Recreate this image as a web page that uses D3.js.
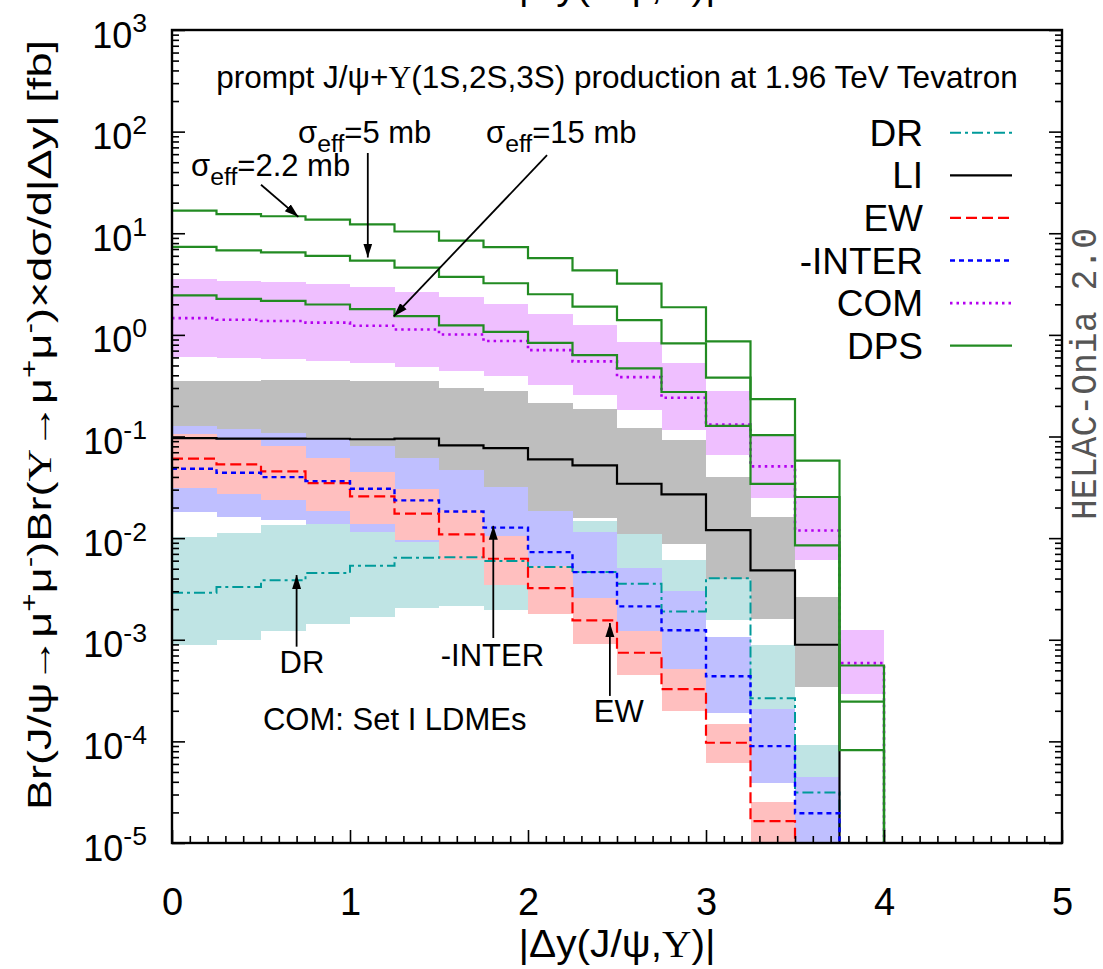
<!DOCTYPE html>
<html>
<head>
<meta charset="utf-8">
<script src="https://cdnjs.cloudflare.com/ajax/libs/d3/7.8.5/d3.min.js"></script>
<style>
body { margin: 0; background: #fff; }
svg { display: block; }
</style>
</head>
<body>
<div id="chart"></div>
<script>
// bin edges in |dy| (16 bins of 0.25)
var xEdges = [0, 0.25, 0.5, 0.75, 1, 1.25, 1.5, 1.75, 2, 2.25, 2.5, 2.75, 3, 3.25, 3.5, 3.75, 4];

// DPS for three sigma_eff values
var dps22 = [16.7, 15.4, 14.7, 13.6, 12.2, 10.4, 8.45, 7.31, 5.70, 4.31, 3.19, 1.87, 0.863, 0.233, 0.0578, 5.58e-4];
var dps5  = [7.35, 6.78, 6.47, 5.98, 5.37, 4.58, 3.72, 3.22, 2.51, 1.90, 1.40, 0.823, 0.380, 0.103, 0.0254, 2.46e-4];
var dps15 = [2.45, 2.26, 2.16, 1.99, 1.79, 1.53, 1.24, 1.07, 0.836, 0.632, 0.468, 0.274, 0.127, 0.0342, 0.00848, 8.2e-5];

// COM
var comC  = [1.46, 1.41, 1.37, 1.32, 1.23, 1.13, 1.01, 0.869, 0.708, 0.548, 0.384, 0.241, 0.131, 0.0508, 0.0119, 5.89e-4];
var comHi = [3.52, 3.39, 3.29, 3.14, 2.94, 2.62, 2.34, 2.00, 1.59, 1.24, 0.844, 0.524, 0.278, 0.105, 0.0255, 1.26e-3];
var comLo = [0.605, 0.591, 0.574, 0.552, 0.528, 0.479, 0.440, 0.391, 0.318, 0.254, 0.181, 0.116, 0.0652, 0.0251, 6.04e-3, 2.90e-4];

// LI
var liC  = [0.0965, 0.0955, 0.0955, 0.095, 0.094, 0.0955, 0.0817, 0.0769, 0.0596, 0.0520, 0.0343, 0.0269, 0.0120, 4.81e-3, 8.93e-4, 0];
var liHi = [0.351, 0.351, 0.357, 0.357, 0.351, 0.351, 0.297, 0.280, 0.213, 0.186, 0.120, 0.093, 0.0398, 0.0161, 2.63e-3, 0];
var liLo = [0.030, 0.030, 0.030, 0.029, 0.029, 0.029, 0.0255, 0.024, 0.017, 0.0157, 0.0109, 8.67e-3, 4.0e-3, 1.61e-3, 3.41e-4, 0];

// EW
var ewC  = [0.0605, 0.0531, 0.0454, 0.0348, 0.0257, 0.0174, 0.0109, 6.27e-3, 3.22e-3, 1.55e-3, 7.45e-4, 3.27e-4, 9.69e-5, 1.64e-5, 0, 0];
var ewHi = [0.1066, 0.0916, 0.0805, 0.0613, 0.0446, 0.0302, 0.0187, 0.0104, 5.27e-3, 2.57e-3, 1.22e-3, 5.14e-4, 1.49e-4, 2.52e-5, 0, 0];
var ewLo = [0.0314, 0.0273, 0.0235, 0.0184, 0.0139, 9.5e-3, 6.14e-3, 3.42e-3, 1.80e-3, 9.14e-4, 4.46e-4, 1.97e-4, 6.1e-5, 5e-6, 0, 0];

// -INTER
var interC  = [0.0482, 0.0440, 0.0398, 0.0364, 0.0306, 0.0235, 0.0183, 0.0127, 7.28e-3, 4.63e-3, 2.13e-3, 1.24e-3, 4.38e-4, 8.97e-5, 1.96e-5, 0];
var interHi = [0.128, 0.118, 0.108, 0.0952, 0.0806, 0.0617, 0.0464, 0.0322, 0.0184, 0.0115, 5.07e-3, 2.99e-3, 1.06e-3, 2.06e-4, 4.44e-5, 0];
var interLo = [0.0179, 0.0160, 0.0150, 0.0137, 0.0116, 9.14e-3, 7.0e-3, 4.9e-3, 2.8e-3, 1.8e-3, 8.2e-4, 5.2e-4, 1.9e-4, 3.9e-5, 5e-6, 0];

// DR
var drC  = [2.90e-3, 3.30e-3, 3.84e-3, 4.53e-3, 5.35e-3, 6.41e-3, 6.50e-3, 5.94e-3, 5.19e-3, 4.63e-3, 3.56e-3, 1.90e-3, 4.04e-3, 2.66e-4, 3.14e-5, 0];
var drHi = [0.0102, 0.0113, 0.0136, 0.0150, 0.0125, 0.0212, 0.0215, 0.0196, 0.0171, 0.0149, 0.0109, 6.04e-3, 0.0133, 8.8e-4, 9.3e-5, 0];
var drLo = [8.79e-4, 1.0e-3, 1.21e-3, 1.42e-3, 1.69e-3, 2.05e-3, 2.13e-3, 1.96e-3, 1.9e-3, 1.5e-3, 1.1e-3, 6e-4, 1.55e-3, 8e-5, 1e-5, 0];

// axis ticks
var xTicks = [0, 1, 2, 3, 4, 5];
var yExps = [-5, -4, -3, -2, -1, 0, 1, 2, 3];
var legendNames = ["DR", "LI", "EW", "-INTER", "COM", "DPS"];

var W = 1103, H = 969;
var pLeft = 172, pRight = 1062, pTop = 30, pBottom = 843;
var SANS = "'Liberation Sans', Arial, Helvetica, sans-serif";
var SERIF = "'Liberation Serif', 'DejaVu Serif', serif";
var MONO = "'Liberation Mono', 'DejaVu Sans Mono', monospace";

var x = d3.scaleLinear().domain([0, 5]).range([pLeft, pRight]);
var y = d3.scaleLog().domain([1e-5, 1e3]).range([pBottom, pTop]);

var svg = d3.select("#chart").append("svg")
	.attr("width", W).attr("height", H)
	.style("font-family", SANS);

var defs = svg.append("defs");
defs.append("clipPath").attr("id", "plotclip")
	.append("rect")
	.attr("x", pLeft).attr("y", pTop)
	.attr("width", pRight - pLeft).attr("height", pBottom - pTop);
defs.append("marker")
	.attr("id", "ahead")
	.attr("markerUnits", "userSpaceOnUse")
	.attr("viewBox", "-14 -6 16 12")
	.attr("markerWidth", 16).attr("markerHeight", 12)
	.attr("refX", 0).attr("refY", 0)
	.attr("orient", "auto")
	.append("path")
	.attr("d", "M0,0 L-14,-4.5 L-14,4.5 Z")
	.attr("fill", "#000");

var plot = svg.append("g").attr("clip-path", "url(#plotclip)");

// uncertainty bands, one rect per bin
function band(lo, hi, color) {
	var data = lo.map(function(l, i) {
		return { x0: xEdges[i], x1: xEdges[i + 1], lo: Math.max(l, 1e-7), hi: hi[i] };
	}).filter(function(d) { return d.hi > 0; });
	plot.append("g").selectAll("rect")
		.data(data)
		.enter().append("rect")
		.attr("x", function(d) { return x(d.x0); })
		.attr("width", function(d) { return x(d.x1) - x(d.x0); })
		.attr("y", function(d) { return y(d.hi); })
		.attr("height", function(d) { return y(d.lo) - y(d.hi); })
		.attr("fill", color)
		.attr("shape-rendering", "crispEdges");
}

// histogram steps; empty bins drop below the axis
var stepLine = d3.line()
	.x(function(d) { return x(d[0]); })
	.y(function(d) { return y(d[1]); });

function steps(vals, color, width, dash) {
	var pts = [];
	vals.forEach(function(v, i) {
		var vv = v > 0 ? v : 1e-7;
		pts.push([xEdges[i], vv]);
		pts.push([xEdges[i + 1], vv]);
	});
	pts.push([xEdges[xEdges.length - 1], 1e-7]);
	plot.append("path")
		.attr("d", stepLine(pts))
		.attr("fill", "none")
		.attr("stroke", color)
		.attr("stroke-width", width)
		.attr("stroke-dasharray", dash || null);
}

var cDR = "#009a9a", cLI = "#000000", cEW = "#ff0000", cIN = "#0000ff", cCOM = "#b400f0", cDPS = "#228b22";
var dDR = "11,4,3,4", dEW = "11,5", dIN = "5,4", dCOM = "2.5,4";

band(drLo, drHi, "#bfe4e4");
band(liLo, liHi, "#bebebe");
band(interLo, interHi, "#bfbfff");
band(ewLo, ewHi, "#ffbfbf");
band(comLo, comHi, "#efbfff");

steps(drC, cDR, 2, dDR);
steps(liC, cLI, 2.2);
steps(ewC, cEW, 2.2, dEW);
steps(interC, cIN, 2.4, dIN);
steps(comC, cCOM, 2.6, dCOM);
steps(dps22, cDPS, 2.2);
steps(dps5, cDPS, 2.2);
steps(dps15, cDPS, 2.2);

// rich text helper (super/subscripts, serif Upsilon)
function rich(t, parts, size, subScale) {
	var off = 0;
	var sc = subScale || 0.7;
	parts.forEach(function(p) {
		var s = t.append("tspan").text(p.t);
		var target = p.sup ? -0.42 * size : (p.sub ? 0.28 * size : 0);
		s.attr("dy", target - off);
		off = target;
		if (p.sup || p.sub) s.attr("font-size", sc * size);
		if (p.serif) s.attr("font-family", SERIF);
	});
	return t;
}

// annotations
var arrows = [
	[0.50, 30, 0.71, 14.5],
	[1.10, 61.6, 1.10, 5.77],
	[2.107, 58.6, 1.2455, 1.52],
	[0.70, 8.55e-4, 0.70, 4.33e-3],
	[1.805, 1.04e-3, 1.805, 0.0132],
	[2.46, 2.80e-4, 2.46, 1.46e-3]
];
svg.append("g").selectAll("line")
	.data(arrows)
	.enter().append("line")
	.attr("x1", function(d) { return x(d[0]); })
	.attr("y1", function(d) { return y(d[1]); })
	.attr("x2", function(d) { return x(d[2]); })
	.attr("y2", function(d) { return y(d[3]); })
	.attr("stroke", "#000")
	.attr("stroke-width", 1.8)
	.attr("marker-end", "url(#ahead)");

var fs = 31;
rich(svg.append("text").attr("x", x(2.5)).attr("y", y(269)).attr("text-anchor", "middle").attr("font-size", 31.5),
	[{t: "prompt J/ψ+"}, {t: "Υ", serif: 1}, {t: "(1S,2S,3S) production at 1.96 TeV Tevatron"}], 31.5);

var sigmaLabels = [
	[0.107, 36.6, "=2.2 mb"],
	[0.708, 77.3, "=5 mb"],
	[1.764, 77.3, "=15 mb"]
];
sigmaLabels.forEach(function(s) {
	rich(svg.append("text").attr("x", x(s[0])).attr("y", y(s[1])).attr("font-size", fs),
		[{t: "σ"}, {t: "eff", sub: 1}, {t: s[2]}], fs, 0.8);
});

var notes = [
	[0.73, 4.71e-4, "DR", "middle"],
	[1.80, 5.52e-4, "-INTER", "middle"],
	[2.51, 1.55e-4, "EW", "middle"],
	[0.511, 1.29e-4, "COM: Set I LDMEs", "start"]
];
svg.append("g").selectAll("text")
	.data(notes)
	.enter().append("text")
	.attr("x", function(d) { return x(d[0]); })
	.attr("y", function(d) { return y(d[1]); })
	.attr("text-anchor", function(d) { return d[3]; })
	.attr("font-size", fs)
	.text(function(d) { return d[2]; });

// legend
var legendStyle = [
	[cDR, 2, dDR], [cLI, 2.2, null], [cEW, 2.2, dEW],
	[cIN, 2.4, dIN], [cCOM, 2.6, dCOM], [cDPS, 2.2, null]
];
var leg = svg.append("g").selectAll("g")
	.data(legendNames)
	.enter().append("g")
	.attr("transform", function(d, i) { return "translate(0," + (132.7 + 42.6 * i) + ")"; });
leg.append("text")
	.attr("x", 923).attr("y", 13)
	.attr("text-anchor", "end")
	.attr("font-size", 37)
	.text(function(d) { return d; });
leg.append("line")
	.attr("x1", 950).attr("x2", 1012)
	.attr("stroke", function(d, i) { return legendStyle[i][0]; })
	.attr("stroke-width", function(d, i) { return legendStyle[i][1]; })
	.attr("stroke-dasharray", function(d, i) { return legendStyle[i][2]; });

// axes with inward ticks
var yMajor = yExps.map(function(e) { return Math.pow(10, e); });
var yMinor = [];
yExps.slice(0, -1).forEach(function(e) {
	for (var m = 2; m <= 9; m++) yMinor.push(m * Math.pow(10, e));
});
var xMinor = d3.range(0, 50).map(function(i) { return i / 10; }).filter(function(v) { return v % 1 !== 0; });

function drawAxis(axis, tx, ty) {
	var g = svg.append("g").attr("transform", "translate(" + tx + "," + ty + ")").call(axis);
	g.select(".domain").remove();
	g.selectAll(".tick line").attr("stroke", "#000").attr("stroke-width", 1.6);
	return g;
}

var yl = drawAxis(d3.axisLeft(y).tickValues(yMajor).tickSizeInner(-13).tickSizeOuter(0).tickFormat(""), pLeft, 0);
drawAxis(d3.axisLeft(y).tickValues(yMinor).tickSizeInner(-7).tickSizeOuter(0).tickFormat(""), pLeft, 0);
drawAxis(d3.axisRight(y).tickValues(yMajor).tickSizeInner(-13).tickSizeOuter(0).tickFormat(""), pRight, 0);
drawAxis(d3.axisRight(y).tickValues(yMinor).tickSizeInner(-7).tickSizeOuter(0).tickFormat(""), pRight, 0);
var xb = drawAxis(d3.axisBottom(x).tickValues(xTicks).tickSizeInner(-13).tickSizeOuter(0).tickFormat(d3.format("d")), 0, pBottom);
drawAxis(d3.axisBottom(x).tickValues(xMinor).tickSizeInner(-7).tickSizeOuter(0).tickFormat(""), 0, pBottom);

xb.attr("font-family", SANS);
xb.selectAll(".tick text")
	.attr("y", 72).attr("dy", 0)
	.attr("font-size", 38)
	.attr("fill", "#000");

yl.attr("font-family", SANS);
yl.selectAll(".tick").each(function(d, i) {
	var t = d3.select(this).append("text")
		.attr("x", -25).attr("y", 17)
		.attr("text-anchor", "end")
		.attr("fill", "#000")
		.attr("font-size", 36);
	rich(t, [{t: "10"}, {t: String(yExps[i]), sup: 1}], 36, 0.74);
});

// frame
svg.append("rect")
	.attr("x", pLeft).attr("y", pTop)
	.attr("width", pRight - pLeft).attr("height", pBottom - pTop)
	.attr("fill", "none").attr("stroke", "#000").attr("stroke-width", 2.4);

// axis titles
var xTitle = [{t: "|Δy(J/ψ,"}, {t: "Υ", serif: 1}, {t: ")|"}];
rich(svg.append("text").attr("x", x(2.5)).attr("y", 957).attr("text-anchor", "middle").attr("font-size", 38)
	.attr("textLength", 197).attr("lengthAdjust", "spacingAndGlyphs"), xTitle, 38);
rich(svg.append("text").attr("x", x(2.5)).attr("y", -1).attr("text-anchor", "middle").attr("font-size", 38)
	.attr("textLength", 197).attr("lengthAdjust", "spacingAndGlyphs"), xTitle, 38);
rich(svg.append("text").attr("transform", "translate(51,425) rotate(-90)")
	.attr("text-anchor", "middle").attr("font-size", 34)
	.attr("textLength", 770).attr("lengthAdjust", "spacingAndGlyphs"),
	[{t: "Br(J/ψ→μ"}, {t: "+", sup: 1}, {t: "μ"}, {t: "-", sup: 1}, {t: ")Br("}, {t: "Υ", serif: 1},
	 {t: "→μ"}, {t: "+", sup: 1}, {t: "μ"}, {t: "-", sup: 1}, {t: ")×dσ/d|Δy| [fb]"}], 34);

svg.append("text")
	.attr("transform", "translate(1096,374) rotate(-90)")
	.attr("text-anchor", "middle")
	.attr("font-size", 36)
	.attr("font-family", MONO)
	.attr("fill", "#555")
	.attr("textLength", 292).attr("lengthAdjust", "spacingAndGlyphs")
	.text("HELAC-Onia 2.0");
</script>
</body>
</html>
